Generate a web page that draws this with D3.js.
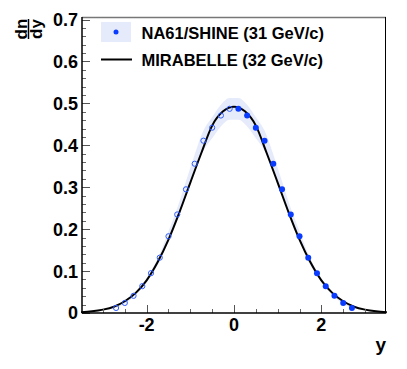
<!DOCTYPE html>
<html>
<head>
<meta charset="utf-8">
<script src="https://cdn.jsdelivr.net/npm/d3@7"></script>
<style>
  body { margin: 0; background: #fff; }
  svg text { font-family: "Liberation Sans", Arial, sans-serif; font-weight: bold; }
</style>
</head>
<body>
<svg id="chart"></svg>
<script>
// NA61/SHINE points (measured half, y > 0); reflected half drawn as open circles
var rapidity = [0.1, 0.3, 0.5, 0.7, 0.9, 1.1, 1.3, 1.5, 1.7, 1.9, 2.1, 2.3, 2.5, 2.7]
var dndy = [0.487, 0.471, 0.442, 0.411, 0.356, 0.295, 0.235, 0.183, 0.132, 0.095, 0.064, 0.041, 0.024, 0.012]
var sysErr = [0.026, 0.026, 0.025, 0.024, 0.022, 0.019, 0.015, 0.012, 0.009, 0.006, 0.004, 0.003, 0.002, 0.001]

// MIRABELLE curve
var modelY = [-3.5, -3.25, -3, -2.75, -2.5, -2.25, -2, -1.75, -1.5, -1.25, -1, -0.75, -0.5, -0.25, 0,
              0.25, 0.5, 0.75, 1, 1.25, 1.5, 1.75, 2, 2.25, 2.5, 2.75, 3, 3.25, 3.5]
var modelDndy = [0.002, 0.004, 0.008, 0.015, 0.028, 0.048, 0.078, 0.121, 0.175, 0.240, 0.311, 0.381, 0.447, 0.481, 0.492,
                 0.481, 0.447, 0.381, 0.311, 0.240, 0.175, 0.121, 0.078, 0.048, 0.028, 0.015, 0.008, 0.004, 0.002]

var xMajor = [-2, 0, 2]
var yMajor = [0, 0.1, 0.2, 0.3, 0.4, 0.5, 0.6, 0.7]
var legendLabels = ['NA61/SHINE (31 GeV/c)', 'MIRABELLE (32 GeV/c)']

var width = 407, height = 369
var frame = {left: 82, right: 386, top: 17, bottom: 313}

var svg = d3.select('#chart').attr('width', width).attr('height', height)

var x = d3.scaleLinear().domain([-3.48, 3.48]).range([frame.left, frame.right])
var y = d3.scaleLinear().domain([0, 0.706]).range([frame.bottom, frame.top])

var points = rapidity.map(function (r, i) { return {r: r, v: dndy[i], e: sysErr[i]} })
var mirrored = points.map(function (d) { return {r: -d.r, v: d.v, e: d.e} })
var bandPts = mirrored.slice().reverse().concat(points)

// systematic band
var band = d3.area()
    .x(function (d) { return x(d.r) })
    .y0(function (d) { return y(d.v - d.e) })
    .y1(function (d) { return y(d.v + d.e) })
    .curve(d3.curveMonotoneX)
svg.append('path').datum(bandPts)
    .attr('d', band)
    .style('fill', '#e6ebfb')

// model curve
var line = d3.line()
    .x(function (d, i) { return x(modelY[i]) })
    .y(function (d) { return y(d) })
    .curve(d3.curveMonotoneX)
svg.append('path').datum(modelDndy)
    .attr('d', line)
    .style('fill', 'none')
    .style('stroke', '#000')
    .style('stroke-width', 2)

svg.selectAll('circle.open').data(mirrored).enter()
    .append('circle').attr('class', 'open')
    .attr('cx', function (d) { return x(d.r) })
    .attr('cy', function (d) { return y(d.v) })
    .attr('r', 2.6)
    .style('fill', 'none')
    .style('stroke', '#2f5cff')
    .style('stroke-width', 1)

svg.selectAll('circle.full').data(points).enter()
    .append('circle').attr('class', 'full')
    .attr('cx', function (d) { return x(d.r) })
    .attr('cy', function (d) { return y(d.v) })
    .attr('r', 3)
    .style('fill', '#0a3cff')

// frame
svg.append('line').attr('x1', frame.left).attr('x2', frame.right).attr('y1', frame.top + 0.5).attr('y2', frame.top + 0.5)
    .style('stroke', '#777').style('stroke-width', 1.5)
svg.append('line').attr('x1', frame.right - 0.5).attr('x2', frame.right - 0.5).attr('y1', frame.top).attr('y2', frame.bottom)
    .style('stroke', '#000').style('stroke-width', 1)

// y axis, ticks pointing inward
var yAxis = svg.append('g')
yAxis.selectAll('line.minor').data(d3.range(0, 0.705, 0.02)).enter()
    .append('line')
    .attr('x1', frame.left).attr('x2', frame.left + 4)
    .attr('y1', function (d) { return Math.round(y(d)) + 0.5 })
    .attr('y2', function (d) { return Math.round(y(d)) + 0.5 })
    .style('stroke', '#666')
yAxis.selectAll('line.major').data(yMajor).enter()
    .append('line')
    .attr('x1', frame.left).attr('x2', frame.left + 8)
    .attr('y1', function (d) { return Math.round(y(d)) + 0.5 })
    .attr('y2', function (d) { return Math.round(y(d)) + 0.5 })
    .style('stroke', '#555')
yAxis.selectAll('text').data(yMajor).enter()
    .append('text')
    .attr('x', frame.left - 4)
    .attr('y', function (d) { return y(d) })
    .attr('dy', '0.36em')
    .attr('text-anchor', 'end')
    .style('font-size', '18px')
    .text(function (d) { return d === 0 ? '0' : d3.format('.1f')(d) })
yAxis.append('line').attr('x1', frame.left).attr('x2', frame.left).attr('y1', frame.top).attr('y2', frame.bottom)
    .style('stroke', '#000').style('stroke-width', 1.5)

// x axis, ticks pointing up
var xAxis = svg.append('g')
xAxis.selectAll('line.minor').data(d3.range(-3, 3.01, 0.5)).enter()
    .append('line')
    .attr('x1', function (d) { return Math.round(x(d)) + 0.5 })
    .attr('x2', function (d) { return Math.round(x(d)) + 0.5 })
    .attr('y1', frame.bottom).attr('y2', frame.bottom - 4)
    .style('stroke', '#666')
xAxis.selectAll('line.major').data(xMajor).enter()
    .append('line')
    .attr('x1', function (d) { return Math.round(x(d)) + 0.5 })
    .attr('x2', function (d) { return Math.round(x(d)) + 0.5 })
    .attr('y1', frame.bottom).attr('y2', frame.bottom - 8)
    .style('stroke', '#555')
xAxis.selectAll('text').data(xMajor).enter()
    .append('text')
    .attr('x', function (d) { return x(d) })
    .attr('y', 331)
    .attr('text-anchor', 'middle')
    .style('font-size', '18px')
    .text(function (d) { return d < 0 ? '-' + Math.abs(d) : d })
xAxis.append('line').attr('x1', frame.left).attr('x2', frame.right).attr('y1', frame.bottom).attr('y2', frame.bottom)
    .style('stroke', '#000').style('stroke-width', 1.5)

// axis titles
svg.append('text').attr('x', frame.right).attr('y', 351)
    .attr('text-anchor', 'end').style('font-size', '19px').text('y')

var yTitle = svg.append('g').attr('transform', 'translate(28.5, 29) rotate(-90)')
yTitle.append('text').attr('x', 0).attr('y', -1.5).attr('text-anchor', 'middle')
    .style('font-size', '17px').text('dn')
yTitle.append('text').attr('x', 0).attr('y', 13).attr('text-anchor', 'middle')
    .style('font-size', '17px').text('dy')
yTitle.append('line').attr('x1', -10).attr('x2', 10).attr('y1', 0).attr('y2', 0)
    .style('stroke', '#000').style('stroke-width', 1.5)

// legend
var legend = svg.append('g')
legend.append('rect').attr('x', 101).attr('y', 22).attr('width', 30).attr('height', 20)
    .style('fill', '#e6ebfb')
legend.append('circle').attr('cx', 116).attr('cy', 32).attr('r', 2.5).style('fill', '#0a3cff')
legend.append('line').attr('x1', 101).attr('x2', 132).attr('y1', 59.5).attr('y2', 59.5)
    .style('stroke', '#000').style('stroke-width', 2)
legend.selectAll('text').data(legendLabels).enter()
    .append('text')
    .attr('x', 141.5)
    .attr('y', function (d, i) { return 39 + i * 27 })
    .style('font-size', '16.5px')
    .text(function (d) { return d })
</script>
</body>
</html>
